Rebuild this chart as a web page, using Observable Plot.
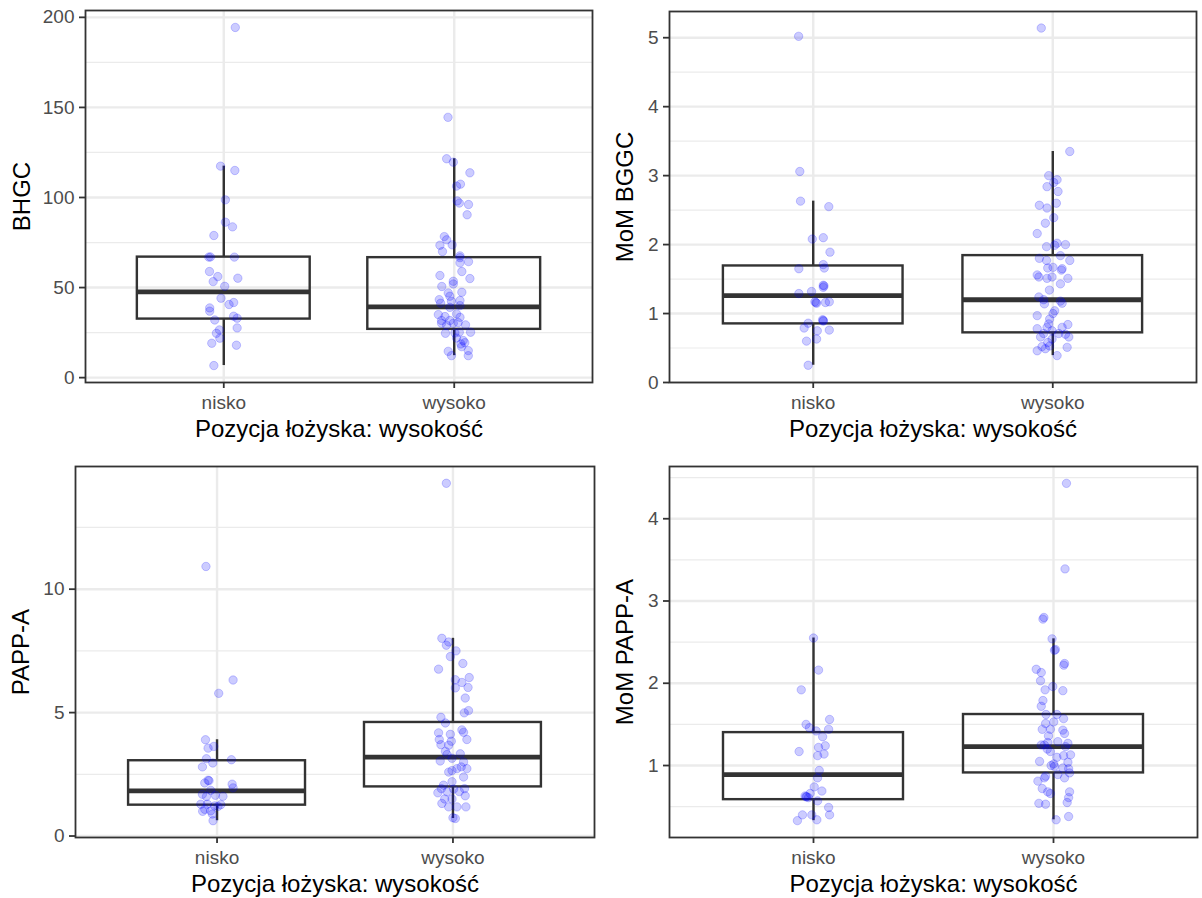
<!DOCTYPE html>
<html>
<head>
<meta charset="utf-8">
<script src="https://cdn.jsdelivr.net/npm/d3@7"></script>
<script src="https://cdn.jsdelivr.net/npm/@observablehq/plot@0.6"></script>
<style>
  html, body { margin: 0; padding: 0; background: #ffffff; }
  #wrap { position: relative; width: 1202px; height: 898px; background: #ffffff; overflow: hidden; }
  .panel { position: absolute; width: 601px; height: 449px; }
</style>
</head>
<body>
<div id="wrap"></div>
<script>
// ---------- categories & labels ----------
const categories = ["nisko", "wysoko"];
const xTitle = "Pozycja łożyska: wysokość";

// ---------- BHGC ----------
const bhgcNisko = [194.4, 117.4, 115, 98.7, 86.3, 83.7, 78.9, 66.9, 67.0, 66.9, 58.9, 56.1, 53.3, 55.2, 50.7, 44.1, 40.6, 41.7, 38.7, 36.9, 32.0, 34.1, 33.0, 27.6, 26.5, 24.6, 21.9, 19.1, 18.0, 6.7];
const bhgcNiskoJitter = [0.05, -0.014, 0.048, 0.007, 0.007, 0.038, -0.043, -0.065, -0.058, 0.046, -0.062, -0.026, -0.046, 0.061, 0.004, -0.012, 0.023, 0.043, -0.061, -0.061, -0.039, 0.043, 0.058, 0.058, -0.019, -0.032, -0.017, -0.052, 0.055, -0.043];
const bhgcWysoko = [144.5, 121.5, 119.6, 113.7, 107.4, 106.3, 98.1, 96.9, 96.1, 90.4, 78.3, 76.5, 73.5, 73.7, 70, 67.6, 66.6, 64.4, 63.7, 58.9, 56.7, 55, 53.5, 52, 50.6, 47.4, 47, 45.2, 42.8, 43.3, 41.3, 42.4, 39, 40, 35, 33.9, 35.4, 33.5, 31.7, 31.7, 30.2, 30.6, 29.3, 29, 30.2, 25.2, 24.6, 24.8, 25.2, 22, 20.6, 18.7, 19.4, 17.2, 15, 14.6, 12.2, 12.2];
const bhgcWysokoJitter = [-0.027, -0.033, -0.004, 0.068, 0.027, 0.010, 0.013, 0.022, 0.062, 0.056, -0.043, -0.033, -0.062, -0.009, -0.051, 0.025, 0.025, 0.062, 0.025, 0.033, -0.062, 0.068, -0.004, -0.004, -0.054, 0.033, -0.026, -0.019, 0.025, -0.065, -0.059, -0.012, -0.019, 0.025, -0.069, -0.040, 0.010, 0.025, -0.055, -0.019, -0.004, 0.017, 0.049, -0.033, -0.055, 0.071, -0.038, 0.003, 0.022, 0.010, 0.039, 0.029, 0.046, 0.032, 0.061, -0.026, -0.012, 0.061];
// [lower whisker, Q1, median, Q3, upper whisker] for nisko, wysoko
const bhgcBox = [[6.7, 32.5, 47.6, 66.9, 117.4], [12.2, 26.8, 39.3, 66.6, 121.5]];
const bhgcTicks = [0, 50, 100, 150, 200];
const bhgcMinor = [25, 75, 125, 175];
const bhgcDomain = [-2.7, 203.8];

// ---------- MoM BGGC ----------
const mombgcNisko = [5.02, 3.06, 2.63, 2.55, 2.08, 2.10, 1.89, 1.71, 1.66, 1.65, 1.41, 1.38, 1.40, 1.32, 1.29, 1.17, 1.15, 1.16, 1.17, 1.16, 0.90, 0.91, 0.89, 0.86, 0.79, 0.75, 0.76, 0.60, 0.63, 0.25];
const mombgcNiskoJitter = [-0.061, -0.056, -0.053, 0.065, -0.004, 0.042, 0.070, 0.042, 0.046, -0.060, 0.042, 0.042, 0.045, -0.007, -0.060, 0.007, 0.014, 0.051, 0.067, 0.011, 0.042, 0.039, 0.042, -0.021, -0.038, 0.017, 0.067, -0.028, 0.014, -0.021];
const mombgcWysoko = [5.14, 3.35, 3.0, 2.94, 2.90, 2.84, 2.77, 2.57, 2.53, 2.60, 2.39, 2.31, 2.16, 1.97, 2.02, 2.0, 1.99, 1.84, 1.80, 1.77, 1.77, 1.66, 1.67, 1.65, 1.63, 1.56, 1.53, 1.51, 1.53, 1.51, 1.43, 1.34, 1.24, 1.20, 1.14, 1.15, 1.18, 1.04, 1.0, 0.97, 0.92, 0.85, 0.84, 0.78, 0.80, 0.80, 0.75, 0.71, 0.71, 0.70, 0.66, 0.66, 0.63, 0.58, 0.51, 0.46, 0.49, 0.53, 0.39, 0.52];
const mombgcWysokoJitter = [-0.048, 0.071, -0.017, 0.018, 0.004, -0.024, 0.022, -0.056, -0.024, 0.015, 0.004, -0.031, -0.065, -0.026, 0.018, 0.053, 0.008, 0.032, -0.056, -0.026, 0.071, -0.021, 0.001, 0.039, 0.036, -0.065, -0.058, -0.024, -0.003, 0.063, 0.032, -0.014, -0.058, -0.038, -0.035, 0.039, 0.032, 0.008, 0.001, -0.065, -0.013, -0.017, 0.063, -0.065, -0.024, 0.039, -0.003, -0.038, 0.025, 0.053, 0.067, -0.051, -0.003, -0.021, 0.060, -0.065, -0.031, -0.013, 0.018, -0.045];
const mombgcBox = [[0.25, 0.85, 1.26, 1.69, 2.63], [0.39, 0.72, 1.20, 1.84, 3.35]];
const mombgcTicks = [0, 1, 2, 3, 4, 5];
const mombgcMinor = [0.5, 1.5, 2.5, 3.5, 4.5];
const mombgcDomain = [0, 5.38];

// ---------- PAPP-A ----------
const pappNisko = [10.92, 6.32, 5.78, 3.9, 3.56, 3.63, 3.13, 3.09, 2.96, 2.80, 2.26, 2.24, 2.15, 2.10, 1.95, 1.85, 1.69, 1.65, 1.61, 1.60, 1.29, 1.29, 1.22, 1.27, 1.08, 1.02, 1.20, 1.00, 0.89, 0.62];
const pappNiskoJitter = [-0.047, 0.068, 0.007, -0.049, -0.038, -0.014, -0.045, 0.061, -0.018, -0.062, -0.038, -0.034, -0.052, 0.064, 0.068, -0.027, -0.062, -0.007, 0.025, -0.045, -0.069, -0.041, -0.010, 0.016, -0.052, -0.027, 0.004, -0.061, -0.020, -0.017];
const pappWysoko = [14.29, 8.01, 7.73, 7.86, 7.5, 7.27, 6.76, 6.99, 6.33, 6.42, 6.22, 6.02, 6.0, 5.59, 5.08, 4.99, 4.81, 4.58, 4.30, 4.2, 3.91, 4.18, 4.12, 3.91, 3.84, 3.70, 3.68, 3.43, 3.3, 3.33, 3.04, 3.15, 3.0, 2.73, 2.73, 2.59, 2.65, 2.39, 2.8, 2.06, 2.2, 1.92, 1.75, 1.79, 1.9, 1.92, 1.63, 1.32, 1.18, 1.18, 1.18, 0.74, 0.71, 1.5, 1.5, 1.8];
const pappWysokoJitter = [-0.028, -0.047, -0.028, -0.018, 0.013, -0.011, -0.061, 0.042, 0.010, 0.069, 0.038, 0.064, 0.010, 0.052, 0.066, 0.048, -0.051, -0.032, 0.038, 0.045, 0.059, -0.061, -0.011, -0.058, -0.007, -0.051, -0.018, -0.032, -0.025, 0.031, -0.054, -0.004, 0.045, 0.059, 0.017, -0.018, -0.004, 0.045, 0.035, -0.040, -0.004, -0.049, -0.064, -0.025, 0.003, 0.049, 0.052, -0.047, -0.018, 0.017, 0.055, 0.0, 0.010, -0.004, -0.035, 0.027];
const pappBox = [[0.62, 1.25, 1.83, 3.05, 3.9], [0.71, 1.99, 3.2, 4.6, 8.01]];
const pappTicks = [0, 5, 10];
const pappMinor = [2.5, 7.5, 12.5];
const pappDomain = [-0.06, 14.97];

// ---------- MoM PAPP-A ----------
const mompappNisko = [2.55, 2.16, 1.92, 1.56, 1.50, 1.46, 1.44, 1.42, 1.35, 1.22, 1.24, 1.17, 1.12, 1.14, 0.94, 0.85, 0.74, 0.69, 0.66, 0.63, 0.62, 0.61, 0.62, 0.57, 0.49, 0.40, 0.40, 0.40, 0.33, 0.34];
const mompappNiskoJitter = [0.0, 0.021, -0.051, 0.067, -0.031, -0.017, 0.063, 0.011, 0.038, 0.021, 0.049, -0.060, 0.017, 0.044, 0.024, 0.017, 0.003, 0.035, -0.014, -0.035, -0.028, -0.021, -0.031, 0.017, 0.063, 0.067, -0.046, -0.007, -0.067, 0.014];
const mompappWysoko = [4.43, 3.39, 2.78, 2.80, 2.54, 2.40, 2.41, 2.24, 2.22, 2.17, 2.13, 2.03, 1.92, 1.96, 1.91, 1.79, 1.72, 1.62, 1.62, 1.57, 1.51, 1.53, 1.44, 1.44, 1.43, 1.39, 1.36, 1.28, 1.29, 1.25, 1.25, 1.27, 1.20, 1.17, 1.23, 1.13, 1.12, 1.10, 1.05, 1.04, 1.0, 1.02, 0.99, 0.97, 0.96, 0.91, 0.89, 0.87, 0.85, 0.85, 0.81, 0.72, 0.68, 0.66, 0.68, 0.61, 0.55, 0.54, 0.53, 0.38, 0.34];
const mompappWysokoJitter = [0.054, 0.048, -0.044, -0.040, -0.006, 0.004, 0.008, 0.046, 0.043, -0.072, -0.051, -0.054, -0.035, -0.003, 0.039, -0.044, -0.051, -0.031, 0.014, 0.042, -0.033, 0.001, -0.047, -0.013, 0.039, 0.046, -0.021, -0.024, 0.018, -0.051, -0.038, 0.060, -0.026, -0.013, 0.050, 0.071, 0.042, 0.014, -0.058, 0.060, -0.010, 0.001, 0.004, 0.039, 0.063, 0.067, 0.018, -0.033, -0.038, 0.046, -0.065, -0.047, -0.024, -0.013, 0.067, 0.063, 0.057, -0.061, -0.033, 0.063, 0.011];
const mompappBox = [[0.33, 0.585, 0.89, 1.40, 2.55], [0.34, 0.91, 1.23, 1.62, 2.54]];
const mompappTicks = [1, 2, 3, 4];
const mompappMinor = [0.5, 1.5, 2.5, 3.5, 4.5];
const mompappDomain = [0.125, 4.635];

// ---------- styles ----------
const FONT = "'Liberation Sans', Arial, Helvetica, sans-serif";
const INK = "#333333";
const GRID = "#EBEBEB";
const HALF_BOX = 0.375;

function makePanel(cfg) {
  const pts = [];
  cfg.values.forEach((arr, i) => arr.forEach((v, k) => pts.push({cat: i + 1, v, jit: cfg.jitter[i][k]})));
  const boxes = cfg.box.map((b, i) => ({cat: i + 1, lo: b[0], q1: b[1], med: b[2], q3: b[3], hi: b[4]}));
  const m = cfg.margins;
  return Plot.plot({
    width: 601,
    height: 449,
    marginLeft: m[0], marginRight: m[1], marginTop: m[2], marginBottom: m[3],
    style: {fontFamily: FONT, fontSize: "19px", background: "transparent", overflow: "visible"},
    x: {type: "linear", domain: [0.4, 2.6]},
    y: {type: "linear", domain: cfg.domain},
    marks: [
      Plot.gridY(cfg.minor, {stroke: GRID, strokeOpacity: 1, strokeWidth: 1.2}),
      Plot.gridY(cfg.ticks, {stroke: GRID, strokeOpacity: 1, strokeWidth: 2.4}),
      Plot.gridX([1, 2], {stroke: GRID, strokeOpacity: 1, strokeWidth: 2.4}),
      Plot.ruleX(boxes, {x: "cat", y1: "q3", y2: "hi", stroke: INK, strokeWidth: 2.4}),
      Plot.ruleX(boxes, {x: "cat", y1: "lo", y2: "q1", stroke: INK, strokeWidth: 2.4}),
      Plot.rect(boxes, {x1: d => d.cat - HALF_BOX, x2: d => d.cat + HALF_BOX, y1: "q1", y2: "q3", fill: "none", stroke: INK, strokeWidth: 2.4}),
      Plot.ruleY(boxes, {y: "med", x1: d => d.cat - HALF_BOX, x2: d => d.cat + HALF_BOX, stroke: INK, strokeWidth: 4.8}),
      Plot.dot(pts, {x: d => d.cat + d.jit, y: "v", r: 4.2, fill: "blue", fillOpacity: 0.2, stroke: "blue", strokeOpacity: 0.2, strokeWidth: 1}),
      Plot.frame({stroke: INK, strokeWidth: 1.8}),
      Plot.axisX([1, 2], {tickFormat: d => categories[d - 1], tickSize: 6, tickPadding: 7, fontSize: 19, stroke: INK, strokeWidth: 1.8, fill: "#4D4D4D", label: null}),
      Plot.axisY(cfg.ticks, {tickFormat: d => String(d), tickSize: 6, tickPadding: 5, fontSize: 19, stroke: INK, strokeWidth: 1.8, fill: "#4D4D4D", label: null}),
      Plot.text([cfg.yTitle], {frameAnchor: "left", dx: cfg.titleDx, rotate: -90, textAnchor: "middle", lineAnchor: "middle", fontSize: 24, fill: "#000000", text: d => d}),
      Plot.text([xTitle], {frameAnchor: "bottom", dy: 47, textAnchor: "middle", lineAnchor: "middle", fontSize: 24, fill: "#000000", text: d => d})
    ]
  });
}

const panels = [
  {left: 0, top: 0, values: [bhgcNisko, bhgcWysoko], jitter: [bhgcNiskoJitter, bhgcWysokoJitter], box: bhgcBox,
   ticks: bhgcTicks, minor: bhgcMinor, domain: bhgcDomain, yTitle: "BHGC", margins: [85, 9, 10, 67], titleDx: -63},
  {left: 601, top: 0, values: [mombgcNisko, mombgcWysoko], jitter: [mombgcNiskoJitter, mombgcWysokoJitter], box: mombgcBox,
   ticks: mombgcTicks, minor: mombgcMinor, domain: mombgcDomain, yTitle: "MoM BGGC", margins: [68, 6, 11, 67], titleDx: -44},
  {left: 0, top: 449, values: [pappNisko, pappWysoko], jitter: [pappNiskoJitter, pappWysokoJitter], box: pappBox,
   ticks: pappTicks, minor: pappMinor, domain: pappDomain, yTitle: "PAPP-A", margins: [75, 7, 17, 61], titleDx: -54},
  {left: 601, top: 449, values: [mompappNisko, mompappWysoko], jitter: [mompappNiskoJitter, mompappWysokoJitter], box: mompappBox,
   ticks: mompappTicks, minor: mompappMinor, domain: mompappDomain, yTitle: "MoM PAPP-A", margins: [68, 5, 17, 61], titleDx: -44}
];

const wrap = document.getElementById("wrap");
for (const p of panels) {
  const div = document.createElement("div");
  div.className = "panel";
  div.style.left = p.left + "px";
  div.style.top = p.top + "px";
  div.appendChild(makePanel(p));
  wrap.appendChild(div);
}
</script>
</body>
</html>
